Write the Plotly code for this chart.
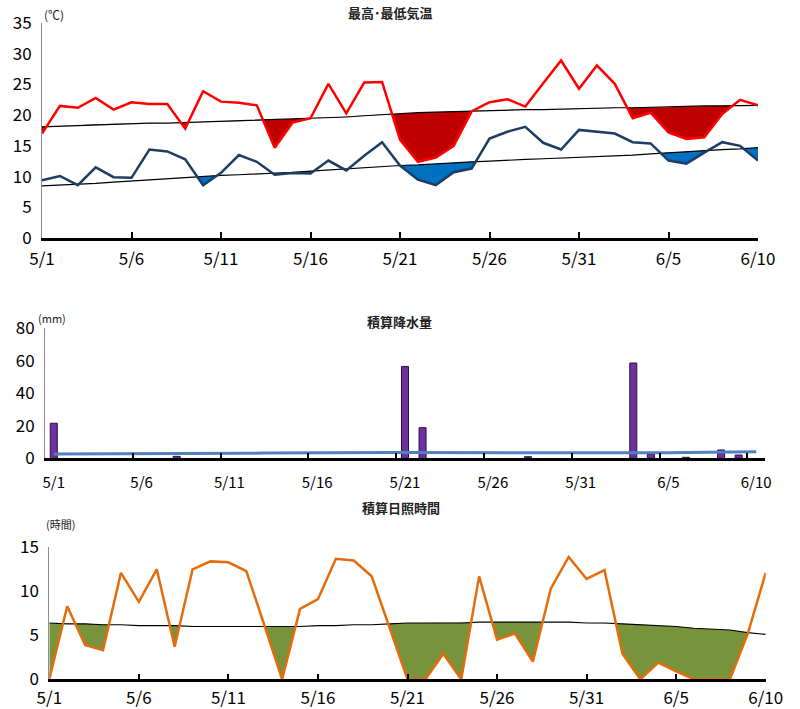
import plotly.graph_objects as go

# ---------------- data ----------------
dates = ["5/1", "5/2", "5/3", "5/4", "5/5", "5/6", "5/7", "5/8", "5/9", "5/10",
         "5/11", "5/12", "5/13", "5/14", "5/15", "5/16", "5/17", "5/18", "5/19", "5/20",
         "5/21", "5/22", "5/23", "5/24", "5/25", "5/26", "5/27", "5/28", "5/29", "5/30",
         "5/31", "6/1", "6/2", "6/3", "6/4", "6/5", "6/6", "6/7", "6/8", "6/9", "6/10"]
tick_labels = ["5/1", "5/6", "5/11", "5/16", "5/21", "5/26", "5/31", "6/5", "6/10"]

t_max = [17.0, 21.5, 21.2, 22.8, 20.9, 22.1, 21.8, 21.8, 17.8, 23.9,
         22.2, 22.0, 21.6, 14.7, 18.8, 19.5, 25.1, 20.3, 25.3, 25.4,
         16.0, 12.4, 13.1, 15.0, 20.6, 22.1, 22.6, 21.4, 25.2, 28.9,
         24.3, 28.1, 25.1, 19.5, 20.4, 17.2, 16.1, 16.4, 20.2, 22.5, 21.6]
t_max_normal = [18.1, 18.2, 18.4, 18.5, 18.6, 18.6, 18.7, 18.7, 18.8, 18.9,
                18.9, 19.0, 19.1, 19.2, 19.4, 19.5, 19.6, 19.7, 19.9, 20.1,
                20.3, 20.4, 20.5, 20.6, 20.7, 20.8, 20.8, 20.9, 20.9, 21.0,
                21.0, 21.1, 21.2, 21.2, 21.3, 21.3, 21.4, 21.5, 21.5, 21.6, 21.6]
t_min = [9.4, 10.1, 8.6, 11.5, 9.9, 9.8, 14.4, 14.1, 12.8, 8.6,
         10.6, 13.5, 12.4, 10.3, 10.6, 10.5, 12.6, 11.0, 13.4, 15.6,
         11.8, 9.5, 8.6, 10.7, 11.3, 16.2, 17.3, 18.1, 15.5, 14.4,
         17.6, 17.3, 17.0, 15.6, 15.4, 12.6, 12.1, 13.9, 15.6, 15.0, 12.6]
t_min_normal = [8.5, 8.6, 8.8, 8.9, 9.1, 9.3, 9.4, 9.6, 9.8, 10.0,
                10.2, 10.3, 10.4, 10.5, 10.7, 10.9, 11.1, 11.3, 11.4, 11.6,
                11.8, 11.9, 12.1, 12.2, 12.4, 12.5, 12.7, 12.8, 12.9, 13.0,
                13.1, 13.2, 13.4, 13.5, 13.7, 13.9, 14.0, 14.2, 14.4, 14.5, 14.7]

precip = [21.5, None, None, None, None, None, None, 1.2, None, None,
          None, None, None, None, None, None, None, None, None, None,
          56.4, 18.8, None, None, None, None, None, 1.0, None, None,
          None, None, None, 58.5, 2.6, None, 0.6, None, 5.1, 2.0, None]
precip_normal = [2.7, 2.7, 2.7, 2.7, 2.7, 2.8, 2.8, 2.8, 2.9, 2.9,
                 3.0, 3.1, 3.2, 3.3, 3.3, 3.4, 3.5, 3.5, 3.5, 3.5,
                 3.5, 3.5, 3.5, 3.5, 3.5, 3.4, 3.3, 3.2, 3.1, 3.1,
                 3.1, 3.1, 3.2, 3.2, 3.3, 3.4, 3.6, 3.7, 3.8, 3.9, 4.0]

sun = [0.0, 8.3, 3.9, 3.3, 12.1, 8.8, 12.5, 3.7, 12.5, 13.4,
       13.3, 12.3, 6.2, 0.0, 8.0, 9.1, 13.7, 13.5, 11.7, 5.9,
       0.0, 0.0, 2.9, 0.0, 11.7, 4.5, 5.2, 2.0, 10.3, 13.9,
       11.4, 12.4, 2.9, 0.0, 1.9, 0.9, 0.0, 0.0, 0.0, 5.2, 12.1]
sun_normal = [6.4, 6.3, 6.3, 6.2, 6.2, 6.1, 6.1, 6.1, 6.0, 6.0,
              6.0, 6.0, 6.0, 6.0, 6.0, 6.1, 6.1, 6.2, 6.2, 6.3,
              6.4, 6.4, 6.4, 6.4, 6.5, 6.5, 6.5, 6.5, 6.5, 6.5,
              6.4, 6.4, 6.3, 6.2, 6.1, 6.0, 5.8, 5.7, 5.6, 5.3, 5.1]

# ---------------- helpers ----------------
day_idx = list(range(len(dates)))
tick_idx = [dates.index(d) for d in tick_labels]


def below_polygon(x, actual, normal):
    """polygon between the normal line and the actual line where actual < normal"""
    xs, lo, hi = [], [], []
    for i in range(len(x)):
        if i > 0:
            d0 = actual[i - 1] - normal[i - 1]
            d1 = actual[i] - normal[i]
            if d0 * d1 < 0:
                t = d0 / (d0 - d1)
                xc = x[i - 1] + t * (x[i] - x[i - 1])
                yc = normal[i - 1] + t * (normal[i] - normal[i - 1])
                xs.append(xc); lo.append(yc); hi.append(yc)
        xs.append(x[i]); lo.append(min(actual[i], normal[i])); hi.append(normal[i])
    return xs + xs[::-1], hi + lo[::-1]


FONT = "Noto Sans CJK JP"
fig = go.Figure()

# ---------- top: temperatures ----------
px_, py_ = below_polygon(day_idx, t_max, t_max_normal)
fig.add_trace(go.Scatter(x=px_, y=py_, fill="toself", fillcolor="#C00000",
                         line=dict(width=0), mode="lines", hoverinfo="skip",
                         xaxis="x", yaxis="y"))
px_, py_ = below_polygon(day_idx, t_min, t_min_normal)
fig.add_trace(go.Scatter(x=px_, y=py_, fill="toself", fillcolor="#0070C0",
                         line=dict(width=0), mode="lines", hoverinfo="skip",
                         xaxis="x", yaxis="y"))
fig.add_trace(go.Scatter(x=day_idx, y=t_max_normal, mode="lines",
                         line=dict(color="black", width=1.2), xaxis="x", yaxis="y"))
fig.add_trace(go.Scatter(x=day_idx, y=t_min_normal, mode="lines",
                         line=dict(color="black", width=1.2), xaxis="x", yaxis="y"))
fig.add_trace(go.Scatter(x=day_idx, y=t_max, mode="lines",
                         line=dict(color="#FF0000", width=2.5), xaxis="x", yaxis="y"))
fig.add_trace(go.Scatter(x=day_idx, y=t_min, mode="lines",
                         line=dict(color="#1F3D63", width=2.5), xaxis="x", yaxis="y"))

# ---------- middle: precipitation ----------
fig.add_trace(go.Bar(x=dates, y=precip, marker=dict(color="#7030A0",
                     line=dict(color="#2A0F45", width=1)),
                     xaxis="x2", yaxis="y2"))
fig.add_trace(go.Scatter(x=dates, y=precip_normal, mode="lines",
                         line=dict(color="#4F81BD", width=3), xaxis="x2", yaxis="y2"))

# ---------- bottom: sunshine ----------
px_, py_ = below_polygon(day_idx, sun, sun_normal)
fig.add_trace(go.Scatter(x=px_, y=py_, fill="toself", fillcolor="#77933C",
                         line=dict(width=0), mode="lines", hoverinfo="skip",
                         xaxis="x3", yaxis="y3"))
fig.add_trace(go.Scatter(x=day_idx, y=sun_normal, mode="lines",
                         line=dict(color="black", width=1.2), xaxis="x3", yaxis="y3"))
fig.add_trace(go.Scatter(x=day_idx, y=sun, mode="lines",
                         line=dict(color="#E46C0A", width=2.5), xaxis="x3", yaxis="y3"))

H = 709.0
W = 800.0


def fx(p):
    return p / W


def fy(p):
    return 1 - p / H


xcommon = dict(showgrid=False, zeroline=False, showline=True, linecolor="black",
               linewidth=2.5, ticks="inside", ticklen=6, tickwidth=2, tickcolor="black",
               tickangle=0, automargin=False,
               tickfont=dict(family=FONT, size=17, color="black"))
ycommon = dict(showgrid=False, zeroline=False, showline=True, linecolor="#8C8C8C",
               linewidth=1, ticks="", automargin=False,
               tickfont=dict(family=FONT, size=17, color="black"),
               ticklabelstandoff=6)

fig.update_layout(
    width=800, height=709,
    margin=dict(l=0, r=0, t=0, b=0, autoexpand=False),
    paper_bgcolor="white", plot_bgcolor="white",
    showlegend=False,
    bargap=0.6,
    xaxis=dict(domain=[fx(42), fx(758)], range=[0, 40], tickvals=tick_idx,
               ticktext=tick_labels, anchor="y", ticklabelstandoff=4, **xcommon),
    yaxis=dict(domain=[fy(238), fy(23)], range=[0, 35], dtick=5, anchor="x", **ycommon),
    xaxis2=dict(domain=[fx(45), fx(765)], type="category", categoryorder="array",
                categoryarray=dates, range=[-0.5, 40.5], tickvals=tick_labels,
                tickson="boundaries", anchor="y2", ticklabelstandoff=9,
                **{**xcommon, "tickfont": dict(family=FONT, size=15, color="black")}),
    yaxis2=dict(domain=[fy(458.3), fy(328)], range=[0, 80], dtick=20, anchor="x2", **ycommon),
    xaxis3=dict(domain=[fx(49.3), fx(765.7)], range=[0, 40], tickvals=tick_idx,
                ticktext=tick_labels, anchor="y3", ticklabelstandoff=2, **xcommon),
    yaxis3=dict(domain=[fy(679.3), fy(547.3)], range=[0, 15], dtick=5, anchor="x3", **ycommon),
)

annots = [
    ("最高･最低気温", 390, 13, 13, True),
    ("積算降水量", 399, 321, 13, True),
    ("積算日照時間", 401, 507, 13, True),
    ("(℃)", 54, 15, 12, False),
    ("(mm)", 52, 318, 11, False),
    ("(時間)", 60, 524, 11, False),
]
for text, x, y, size, bold in annots:
    fig.add_annotation(text=f"<b>{text}</b>" if bold else text, x=fx(x), y=fy(y),
                       xref="paper", yref="paper", showarrow=False,
                       xanchor="center", yanchor="middle",
                       font=dict(family=FONT, size=size, color="#222"))

fig.write_html("out.html", config={"displayModeBar": False},
               post_script="document.body.style.margin='0';document.body.style.overflow='hidden';")
